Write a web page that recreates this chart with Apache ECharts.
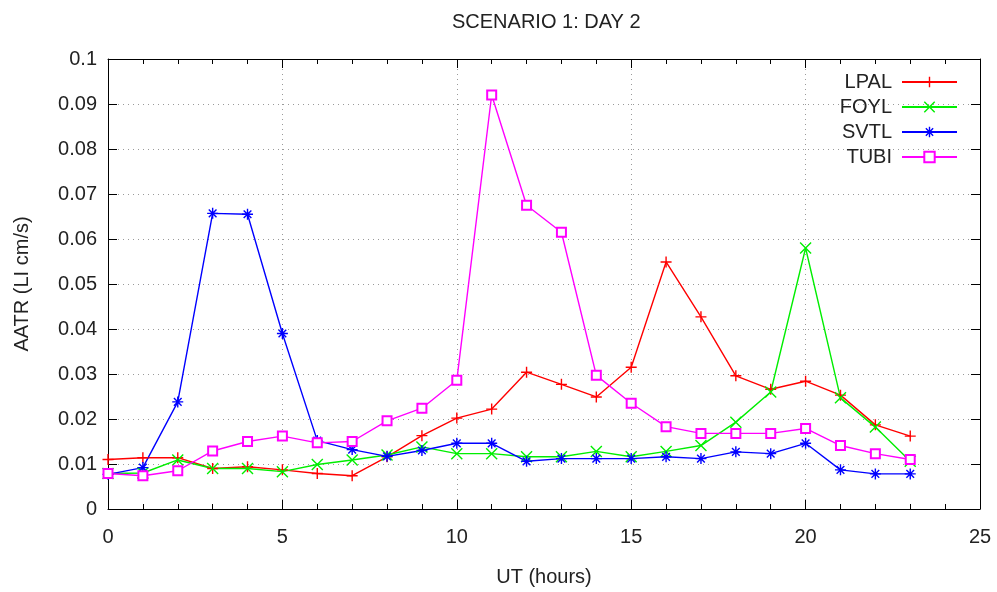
<!DOCTYPE html>
<html>
<head>
<meta charset="utf-8">
<title>SCENARIO 1: DAY 2</title>
<script src="https://cdn.jsdelivr.net/npm/echarts@6/dist/echarts.min.js"></script>
<style>
  html, body { margin: 0; padding: 0; background: #fff; }
  #chart { width: 997px; height: 592px; }
</style>
</head>
<body>
<div id="chart"></div>
<script>
// Hour of day (UT) for each sample
const hours = [0, 1, 2, 3, 4, 5, 6, 7, 8, 9, 10, 11, 12, 13, 14, 15, 16, 17, 18, 19, 20, 21, 22, 23];

// AATR per station (LI cm/s)
const lpal = [0.0110, 0.0114, 0.0114, 0.0090, 0.0094, 0.0087, 0.0079, 0.0074, 0.0116, 0.0163, 0.0202, 0.0222,
              0.0304, 0.0277, 0.0249, 0.0315, 0.0549, 0.0427, 0.0296, 0.0266, 0.0284, 0.0253, 0.0187, 0.0162];
const foyl = [0.0079, 0.0080, 0.0109, 0.0090, 0.0090, 0.0083, 0.0099, 0.0109, 0.0120, 0.0138, 0.0123, 0.0123,
              0.0116, 0.0116, 0.0128, 0.0116, 0.0128, 0.0141, 0.0193, 0.0260, 0.0580, 0.0247, 0.0182, 0.0106];
const svtl = [0.0077, 0.0092, 0.0238, 0.0657, 0.0655, 0.0390, 0.0152, 0.0132, 0.0117, 0.0130, 0.0146, 0.0146,
              0.0106, 0.0112, 0.0112, 0.0112, 0.0116, 0.0112, 0.0127, 0.0123, 0.0146, 0.0087, 0.0078, 0.0078];
const tubi = [0.0079, 0.0074, 0.0085, 0.0129, 0.0150, 0.0162, 0.0147, 0.0150, 0.0196, 0.0224, 0.0286, 0.0920,
              0.0675, 0.0615, 0.0297, 0.0235, 0.0183, 0.0168, 0.0168, 0.0168, 0.0179, 0.0141, 0.0123, 0.0110];

const stationNames = ['LPAL', 'FOYL', 'SVTL', 'TUBI'];
const xTicks = [0, 5, 10, 15, 20, 25];
const yTicks = [0, 0.01, 0.02, 0.03, 0.04, 0.05, 0.06, 0.07, 0.08, 0.09, 0.1];

const FONT = 'Liberation Sans, Arial, sans-serif';
const TEXT = '#222';

// Point markers drawn as stroked outlines
const PLUS = 'path://M5,0L5,10M0,5L10,5';
const CROSS = 'path://M0,0L10,10M0,10L10,0';
const STAR = 'path://M5,0L5,10M0,5L10,5M1.5,1.5L8.5,8.5M1.5,8.5L8.5,1.5';

function pairs(values) {
  return hours.map((h, i) => [h, values[i]]);
}

function lineSeries(name, values, color, symbol, size) {
  return {
    name: name,
    type: 'line',
    data: pairs(values),
    symbol: symbol,
    symbolSize: size,
    showAllSymbol: true,
    lineStyle: { color: color, width: 1.4 },
    itemStyle: { color: color, borderColor: color, borderWidth: 1.4 },
    emphasis: { disabled: true },
    z: 3
  };
}

const gridLine = { show: true, lineStyle: { color: '#9a9a9a', width: 1, type: [1, 4] } };
const frameLine = { show: true, onZero: false, lineStyle: { color: '#000', width: 1 } };

const chart = echarts.init(document.getElementById('chart'), null, { renderer: 'canvas' });

chart.setOption({
  animation: false,
  backgroundColor: '#fff',
  title: {
    text: 'SCENARIO 1: DAY 2',
    left: 447,
    top: 7,
    textStyle: { fontFamily: FONT, fontSize: 20, fontWeight: 'normal', color: TEXT }
  },
  legend: {
    orient: 'vertical',
    right: 34,
    top: 67,
    align: 'right',
    itemWidth: 55,
    itemHeight: 13,
    itemGap: 5,
    data: stationNames,
    textStyle: { fontFamily: FONT, fontSize: 20, color: TEXT, padding: [0, 5, 0, 0] },
    itemStyle: { borderWidth: 1.4 },
    selectedMode: false
  },
  grid: { left: 108, right: 17, top: 59, bottom: 78, containLabel: false },
  xAxis: [
    {
      type: 'value',
      position: 'bottom',
      min: xTicks[0],
      max: xTicks[xTicks.length - 1],
      interval: 5,
      name: 'UT (hours)',
      nameLocation: 'middle',
      nameGap: 58,
      nameTextStyle: { fontFamily: FONT, fontSize: 20, color: TEXT },
      axisLine: frameLine,
      axisTick: { show: true, inside: true, length: 9, lineStyle: { color: '#000' } },
      minorTick: { show: true, splitNumber: 5, length: 5, lineStyle: { color: '#000' } },
      axisLabel: { fontFamily: FONT, fontSize: 20, color: TEXT, margin: 18 },
      splitLine: gridLine
    },
    {
      type: 'value',
      position: 'top',
      min: xTicks[0],
      max: xTicks[xTicks.length - 1],
      interval: 5,
      axisLine: frameLine,
      axisTick: { show: true, inside: true, length: 9, lineStyle: { color: '#000' } },
      minorTick: { show: true, splitNumber: 5, length: 5, lineStyle: { color: '#000' } },
      axisLabel: { show: false },
      splitLine: { show: false }
    }
  ],
  yAxis: [
    {
      type: 'value',
      position: 'left',
      min: yTicks[0],
      max: yTicks[yTicks.length - 1],
      interval: 0.01,
      name: 'AATR (LI cm/s)',
      nameLocation: 'middle',
      nameRotate: 90,
      nameGap: 76,
      nameTextStyle: { fontFamily: FONT, fontSize: 20, color: TEXT },
      axisLine: frameLine,
      axisTick: { show: true, inside: true, length: 9, lineStyle: { color: '#000' } },
      axisLabel: {
        fontFamily: FONT, fontSize: 20, color: TEXT, margin: 11,
        formatter: v => String(Math.round(v * 100) / 100)
      },
      splitLine: gridLine
    },
    {
      type: 'value',
      position: 'right',
      min: yTicks[0],
      max: yTicks[yTicks.length - 1],
      interval: 0.01,
      axisLine: frameLine,
      axisTick: { show: true, inside: true, length: 9, lineStyle: { color: '#000' } },
      axisLabel: { show: false },
      splitLine: { show: false }
    }
  ],
  series: [
    lineSeries('LPAL', lpal, '#ff0000', PLUS, 11),
    lineSeries('FOYL', foyl, '#00ee00', CROSS, 11),
    lineSeries('SVTL', svtl, '#0000ff', STAR, 11),
    lineSeries('TUBI', tubi, '#ff00ff', 'emptyRect', 9)
  ]
});
</script>
</body>
</html>
